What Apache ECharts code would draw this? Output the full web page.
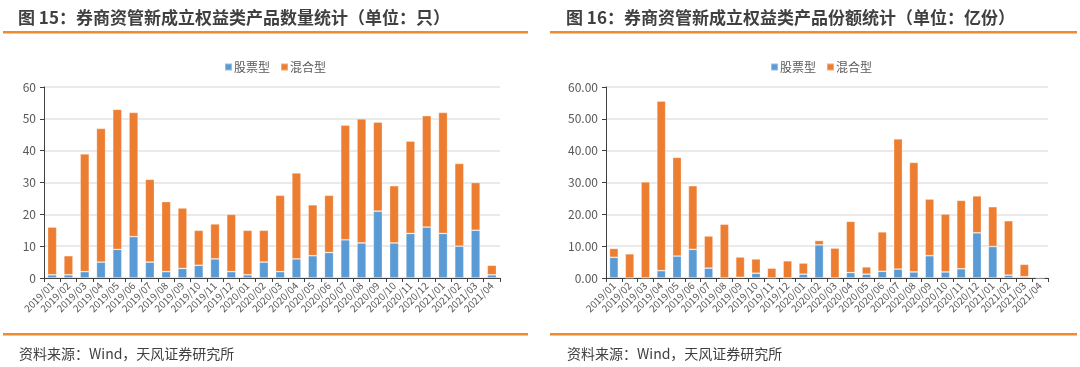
<!DOCTYPE html>
<html><head><meta charset="utf-8">
<script src="https://cdn.jsdelivr.net/npm/echarts@6/dist/echarts.min.js"></script>
<style>html,body{margin:0;padding:0;background:#fff}#c{width:1080px;height:367px}</style>
</head><body><div id="c"></div>
<script>
const categories = ['2019/01','2019/02','2019/03','2019/04','2019/05','2019/06','2019/07','2019/08','2019/09','2019/10','2019/11','2019/12','2020/01','2020/02','2020/03','2020/04','2020/05','2020/06','2020/07','2020/08','2020/09','2020/10','2020/11','2020/12','2021/01','2021/02','2021/03','2021/04'];
// Figure 15: number of products
const countStock = [1,1,2,5,9,13,5,2,3,4,6,2,1,5,2,6,7,8,12,11,21,11,14,16,14,10,15,1];
const countMixed = [15,6,37,42,44,39,26,22,19,11,11,18,14,10,24,27,16,18,36,39,28,18,29,35,38,26,15,3];
// Figure 16: shares (100 million)
const shareStock = [6.5,0,0,2.3,6.9,9.0,3.1,0,0.2,1.5,0,0,1.2,10.4,0,1.7,1.2,2.1,2.8,1.9,7.0,1.9,2.9,14.2,9.9,0.9,0.4,0];
const shareMixed = [2.8,7.6,30.2,53.3,31.0,20.0,10.1,16.9,6.4,4.5,3.1,5.4,3.5,1.4,9.4,16.1,2.3,12.4,40.9,34.4,17.8,18.2,21.5,11.6,12.5,17.1,3.9,0];
const legendNames = ['股票型','混合型'];
const titles = ['图 15：券商资管新成立权益类产品数量统计（单位：只）','图 16：券商资管新成立权益类产品份额统计（单位：亿份）'];
const sourceText = '资料来源：Wind，天风证券研究所';

const BLUE = '#5B9BD5', ORANGE = '#ED7D31';
const FONT = '"Noto Sans CJK SC", "Noto Sans", sans-serif';
const chart = echarts.init(document.getElementById('c'), null, {renderer:'canvas'});

function xAxis(gi){
  return {type:'category', gridIndex:gi, data:categories,
    axisLine:{lineStyle:{color:'#404040', width:1}},
    axisTick:{show:true, length:4, lineStyle:{color:'#404040'}},
    axisLabel:{rotate:45, fontSize:10, color:'#595959', fontFamily:FONT, margin:6, interval:0}};
}
function yAxis(gi, fmt){
  return {type:'value', gridIndex:gi, min:0, max:60, interval:10,
    axisLine:{show:true, lineStyle:{color:'#404040'}},
    axisTick:{show:true, length:4, lineStyle:{color:'#404040'}},
    splitLine:{lineStyle:{color:'#e3e3e3', width:1.5}},
    axisLabel:{fontSize:12, color:'#595959', fontFamily:FONT, margin:8, formatter:fmt}};
}
function bar(name, data, color, xi){
  return {name, type:'bar', stack:'s'+xi, xAxisIndex:xi, yAxisIndex:xi, data,
    barWidth:'56%', itemStyle:{color, borderColor:'rgba(255,255,255,0.35)', borderWidth:0.8},
    emphasis:{disabled:true}, animation:false};
}
const titleStyle = {fontSize:17, fontWeight:'bold', color:'#404040', fontFamily:FONT};
const srcStyle = {fontSize:14, fontWeight:'normal', color:'#404040', fontFamily:FONT};

chart.setOption({
  animation:false,
  textStyle:{fontFamily:FONT},
  title:[
    {text:titles[0], left:13, top:4, textStyle:titleStyle},
    {text:titles[1], left:561, top:4, textStyle:titleStyle},
    {text:sourceText, left:14, top:342, textStyle:srcStyle},
    {text:sourceText, left:562, top:342, textStyle:srcStyle}
  ],
  graphic:[
    {type:'rect', shape:{x:3,y:31,width:525,height:2.5}, style:{fill:'#F08A2C'}},
    {type:'rect', shape:{x:550,y:31,width:527,height:2.5}, style:{fill:'#F08A2C'}},
    {type:'rect', shape:{x:3,y:333,width:525,height:2.5}, style:{fill:'#F08A2C'}},
    {type:'rect', shape:{x:550,y:333,width:527,height:2.5}, style:{fill:'#F08A2C'}}
  ],
  legend:[
    {data:legendNames.map(n=>({name:n})), left:219, top:56, itemWidth:7, itemHeight:7, itemGap:10, icon:'rect',
     textStyle:{fontSize:12, color:'#595959', fontFamily:FONT, padding:[0,0,0,-3]}},
    {data:legendNames.map(n=>({name:n})), left:765, top:56, itemWidth:7, itemHeight:7, itemGap:10, icon:'rect',
     textStyle:{fontSize:12, color:'#595959', fontFamily:FONT, padding:[0,0,0,-3]}}
  ],
  grid:[
    {left:44, right:580, top:87, height:191, containLabel:false},
    {left:606, right:32, top:87, height:191, containLabel:false}
  ],
  xAxis:[xAxis(0), xAxis(1)],
  yAxis:[yAxis(0, v=>String(v)), yAxis(1, v=>v.toFixed(2))],
  series:[
    bar(legendNames[0], countStock, BLUE, 0),
    bar(legendNames[1], countMixed, ORANGE, 0),
    bar(legendNames[0], shareStock, BLUE, 1),
    bar(legendNames[1], shareMixed, ORANGE, 1)
  ]
});
</script></body></html>
